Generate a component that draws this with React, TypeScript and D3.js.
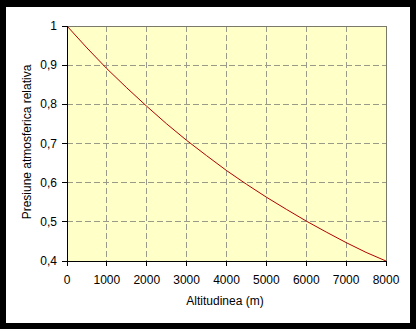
import React from "react";
import * as d3 from "d3";

const altitudes = [0, 500, 1000, 1500, 2000, 2500, 3000, 3500, 4000, 4500, 5000, 5500, 6000, 6500, 7000, 7500, 8000];
const pressures = [1, 0.944, 0.891, 0.842, 0.795, 0.75, 0.708, 0.669, 0.631, 0.596, 0.563, 0.532, 0.502, 0.474, 0.447, 0.422, 0.4];
const xTicks = [0, 1000, 2000, 3000, 4000, 5000, 6000, 7000, 8000];
const yTicks = [0.4, 0.5, 0.6, 0.7, 0.8, 0.9, 1];
const xTitle = "Altitudinea (m)";
const yTitle = "Presiune atmosferica relativa";

export default function App() {
  const W = 416, H = 329;
  const L = 67, R = 386, T = 26, B = 261;
  const x = d3.scaleLinear().domain([0, 8000]).range([L, R]);
  const y = d3.scaleLinear().domain([0.4, 1]).range([B, T]);
  const line = d3.line<number>().x((_, i) => x(altitudes[i])).y((d) => y(d));
  const fmt = (v: number) => (v === 1 ? "1" : v.toFixed(1).replace(".", ","));
  const font = "'Liberation Sans', Arial, sans-serif";
  return (
    <svg width={W} height={H} style={{ position: "absolute", left: 0, top: 0 }} fontFamily={font}>
      <rect x={0} y={0} width={W} height={H} fill="#000" />
      <rect x={6} y={7} width={404} height={316} fill="#fff" />
      <rect x={L} y={T} width={R - L} height={B - T} fill="#ffffc8" />
      {xTicks.slice(1, -1).map((t) => (
        <line key={"gx" + t} x1={x(t)} x2={x(t)} y1={T} y2={B} stroke="#9a9a88" strokeDasharray="6,3" strokeWidth={1} shapeRendering="crispEdges" />
      ))}
      {yTicks.slice(1, -1).map((t) => (
        <line key={"gy" + t} x1={L} x2={R} y1={y(t)} y2={y(t)} stroke="#9a9a88" strokeDasharray="6,3" strokeWidth={1} shapeRendering="crispEdges" />
      ))}
      <line x1={L} x2={R} y1={T} y2={T} stroke="#7a7a6a" shapeRendering="crispEdges" />
      <line x1={R} x2={R} y1={T} y2={B} stroke="#7a7a6a" shapeRendering="crispEdges" />
      <path d={line(pressures) || ""} fill="none" stroke="#b00000" strokeWidth={1} />
      <line x1={L} x2={L} y1={T} y2={B + 0.5} stroke="#000" shapeRendering="crispEdges" />
      <line x1={L} x2={R} y1={B} y2={B} stroke="#000" shapeRendering="crispEdges" />
      {yTicks.map((t) => (
        <g key={"ty" + t}>
          <line x1={L - 5} x2={L} y1={y(t)} y2={y(t)} stroke="#000" shapeRendering="crispEdges" />
          <text x={L - 10} y={y(t) + 4} textAnchor="end" fontSize={12} fill="#000">{fmt(t)}</text>
        </g>
      ))}
      {xTicks.map((t) => (
        <g key={"tx" + t}>
          <line x1={x(t)} x2={x(t)} y1={B} y2={B + 5} stroke="#000" shapeRendering="crispEdges" />
          <text x={x(t)} y={284} textAnchor="middle" fontSize={12} fill="#000">{t}</text>
        </g>
      ))}
      <text x={225} y={305} textAnchor="middle" fontSize={12} fill="#000">{xTitle}</text>
      <text transform={`translate(30.5,142) rotate(-90)`} textAnchor="middle" fontSize={12} fill="#000">{yTitle}</text>
    </svg>
  );
}
